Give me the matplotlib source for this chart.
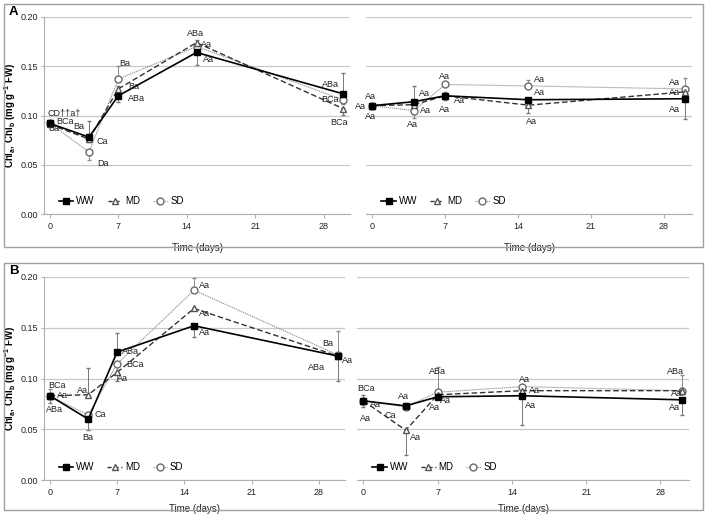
import numpy as np
import matplotlib
matplotlib.use('Agg')
import matplotlib.pyplot as plt
from matplotlib.patches import Rectangle
from matplotlib.lines import Line2D

plt.rcParams['font.family'] = ['Liberation Sans', 'DejaVu Sans']
plt.rcParams['font.size'] = 6.5

days = [0, 4, 7, 15, 30]

# panel A, left
ww_a1 = [0.092, 0.078, 0.120, 0.164, 0.122]
md_a1 = [0.091, 0.076, 0.127, 0.174, 0.107]
sd_a1 = [0.092, 0.063, 0.137, 0.170, 0.116]
ww_a1_err = ([0.002, 0.0, 0.006, 0.013, 0.0], [0.002, 0.016, 0.0, 0.0, 0.021])
md_a1_err = ([0.002, 0.003, 0.003, 0.003, 0.006], [0.0, 0.0, 0.003, 0.003, 0.0])
sd_a1_err = ([0.002, 0.008, 0.0, 0.0, 0.004], [0.002, 0.0, 0.013, 0.003, 0.0])
lab_a1 = [(-0.2, 0.103, 'CD\u2020\u2020a\u2020'), (0.7, 0.094, 'BCa'), (-0.2, 0.087, 'Ba'),
          (2.4, 0.089, 'Ba'), (4.8, 0.074, 'Ca'), (4.8, 0.051, 'Da'),
          (7.1, 0.153, 'Ba'), (8.0, 0.129, 'Ba'), (8.0, 0.117, 'ABa'),
          (14.0, 0.183, 'ABa'), (15.5, 0.172, 'Aa'), (15.7, 0.157, 'Aa'),
          (27.8, 0.131, 'ABa'), (27.8, 0.116, 'BCa'), (28.7, 0.093, 'BCa')]

# panel A, right
ww_a2 = [0.110, 0.114, 0.120, 0.116, 0.117]
md_a2 = [0.110, 0.111, 0.120, 0.1105, 0.124]
sd_a2 = [0.110, 0.105, 0.1315, 0.130, 0.127]
ww_a2_err = ([0.002, 0.0, 0.004, 0.0, 0.021], [0.002, 0.016, 0.004, 0.0, 0.0])
md_a2_err = ([0.0, 0.0, 0.0, 0.008, 0.0], [0.0, 0.0, 0.0, 0.0, 0.0])
sd_a2_err = ([0.0, 0.008, 0.0, 0.0, 0.0], [0.0, 0.0, 0.0, 0.006, 0.011])
lab_a2 = [(-0.7, 0.119, 'Aa'), (-1.7, 0.1095, 'Aa'), (-0.7, 0.099, 'Aa'),
          (4.5, 0.122, 'Aa'), (4.6, 0.105, 'Aa'), (3.3, 0.091, 'Aa'),
          (6.4, 0.140, 'Aa'), (7.8, 0.115, 'Aa'), (6.4, 0.106, 'Aa'),
          (15.5, 0.137, 'Aa'), (15.5, 0.123, 'Aa'), (14.8, 0.094, 'Aa'),
          (28.5, 0.134, 'Aa'), (28.5, 0.123, 'Aa'), (28.5, 0.106, 'Aa')]

# panel B, left
ww_b1 = [0.083, 0.060, 0.126, 0.152, 0.122]
md_b1 = [0.083, 0.084, 0.106, 0.169, 0.122]
sd_b1 = [0.083, 0.064, 0.1145, 0.187, 0.123]
ww_b1_err = ([0.007, 0.011, 0.0, 0.011, 0.024], [0.0, 0.0, 0.019, 0.0, 0.0])
md_b1_err = ([0.0, 0.0, 0.008, 0.0, 0.0], [0.0, 0.026, 0.0, 0.0, 0.0])
sd_b1_err = ([0.0, 0.0, 0.0, 0.0, 0.0], [0.007, 0.0, 0.0, 0.012, 0.024])
lab_b1 = [(-0.2, 0.093, 'BCa'), (0.7, 0.083, 'Aa'), (-0.4, 0.069, 'ABa'),
          (2.8, 0.088, 'Aa'), (4.6, 0.065, 'Ca'), (3.4, 0.042, 'Ba'),
          (7.5, 0.127, 'ABa'), (8.0, 0.114, 'BCa'), (7.0, 0.100, 'Aa'),
          (15.5, 0.192, 'Aa'), (15.5, 0.164, 'Aa'), (15.5, 0.145, 'Aa'),
          (28.3, 0.134, 'Ba'), (26.8, 0.111, 'ABa'), (30.4, 0.118, 'Aa')]

# panel B, right
ww_b2 = [0.078, 0.073, 0.082, 0.083, 0.079]
md_b2 = [0.078, 0.049, 0.084, 0.088, 0.088]
sd_b2 = [0.078, 0.072, 0.0865, 0.092, 0.088]
ww_b2_err = ([0.006, 0.0, 0.0, 0.029, 0.015], [0.006, 0.003, 0.0, 0.0, 0.0])
md_b2_err = ([0.0, 0.024, 0.0, 0.0, 0.0], [0.0, 0.0, 0.0, 0.0, 0.0])
sd_b2_err = ([0.0, 0.0, 0.0, 0.0, 0.0], [0.0, 0.0, 0.025, 0.0, 0.015])
lab_b2 = [(-0.6, 0.0906, 'BCa'), (0.6, 0.074, 'Aa'), (-0.3, 0.061, 'Aa'),
          (3.3, 0.082, 'Aa'), (2.0, 0.064, 'Ca'), (4.4, 0.0414, 'Aa'),
          (6.2, 0.1067, 'ABa'), (7.2, 0.078, 'Aa'), (6.2, 0.071, 'Aa'),
          (14.7, 0.0995, 'Aa'), (15.6, 0.0877, 'Aa'), (15.25, 0.073, 'Aa'),
          (28.6, 0.107, 'ABa'), (29.0, 0.085, 'Aa'), (28.8, 0.071, 'Aa')]

W, H = 708, 517
fig = plt.figure(figsize=(W / 100, H / 100), dpi=100)

def px(x0, y0, x1, y1):
    return [x0 / W, 1 - y1 / H, (x1 - x0) / W, (y1 - y0) / H]

def draw(ax, ww, md, sd, ew, em, es, labels, first, xlab_y, ylab_y):
    ax.errorbar(days, sd, yerr=es, color='#8a8a8a', lw=0.8, ls=(0, (1, 0.8)),
                marker='o', ms=5, mfc='white', mec='#6a6a6a', ecolor='#8a8a8a',
                elinewidth=0.7, capsize=1.5, zorder=3)
    ax.errorbar(days, md, yerr=em, color='#333333', lw=1.0, ls=(0, (4, 2)),
                marker='^', ms=5, mfc='white', mec='#555555', ecolor='#777777',
                elinewidth=0.7, capsize=1.5, zorder=4)
    ax.errorbar(days, ww, yerr=ew, color='black', lw=1.2, ls='-',
                marker='s', ms=4.5, mfc='black', mec='black', ecolor='#777777',
                elinewidth=0.7, capsize=1.5, zorder=5)
    for x, y, t in labels:
        ax.text(x, y, t, fontsize=6.5, color='#222222', va='center', ha='left', zorder=6,
                clip_on=False)
    ax.set_xlim(-0.6, 30.7)
    ax.set_ylim(0, 0.2)
    ax.set_xticks([0, 7, 14, 21, 28])
    ax.set_yticks([0, 0.05, 0.10, 0.15, 0.20])
    ax.yaxis.grid(True, color='#c8c8c8', lw=0.9)
    ax.set_axisbelow(True)
    for s in ['top', 'right']:
        ax.spines[s].set_visible(False)
    ax.spines['bottom'].set_color('#b0b0b0')
    ax.spines['left'].set_color('#b0b0b0')
    ax.tick_params(axis='x', length=3, pad=3, color='#b0b0b0', labelsize=6.5, labelcolor='#222222')
    if first:
        ax.yaxis.set_major_formatter(plt.FuncFormatter(lambda v, p: '%.2f' % v))
        ax.tick_params(axis='y', length=2, pad=2, color='#b0b0b0', labelsize=6.5, labelcolor='#222222')
        ax.set_ylabel('Chl$_\\mathregular{a}$, Chl$_\\mathregular{b}$ (mg g$^\\mathregular{-1}$ FW)',
                      fontsize=7, fontweight='bold')
        ax.yaxis.set_label_coords(18 / W, 1 - ylab_y / H, transform=fig.transFigure)
    else:
        ax.spines['left'].set_visible(False)
        ax.tick_params(axis='y', length=0, labelleft=False)
    ax.set_xlabel('Time (days)', fontsize=7, color='#222222')
    ax.xaxis.set_label_coords(0.5, xlab_y)
    handles = [
        Line2D([], [], color='black', lw=1.2, marker='s', ms=4.5, mfc='black'),
        Line2D([], [], color='#333333', lw=1.0, ls=(0, (3, 2)), marker='^', ms=5, mfc='white', mec='#555555'),
        Line2D([], [], color='#8a8a8a', lw=0.8, ls=(0, (1, 1)), marker='o', ms=5, mfc='white', mec='#6a6a6a'),
    ]
    ax.legend(handles, ['WW', 'MD', 'SD'], loc='lower left', bbox_to_anchor=(0.02, -0.005),
              ncol=3, frameon=False, fontsize=7, handlelength=1.5, handletextpad=0.3,
              columnspacing=1.3)

# frames
fig.patches.append(Rectangle((4 / W, 1 - 247 / H), 699 / W, 243 / H, transform=fig.transFigure,
                             fill=False, ec='#a0a0a0', lw=1))
fig.patches.append(Rectangle((4 / W, 1 - 510 / H), 699 / W, 247 / H, transform=fig.transFigure,
                             fill=False, ec='#a0a0a0', lw=1))

ax1 = fig.add_axes(px(44, 17, 350, 214))
ax2 = fig.add_axes(px(366, 17, 692, 214))
ax3 = fig.add_axes(px(44, 277, 345, 480))
ax4 = fig.add_axes(px(357, 277, 689, 480))
ax2.set_zorder(-1)
ax4.set_zorder(-1)

draw(ax1, ww_a1, md_a1, sd_a1, ww_a1_err, md_a1_err, sd_a1_err, lab_a1, True, -0.147, 115)
draw(ax2, ww_a2, md_a2, sd_a2, ww_a2_err, md_a2_err, sd_a2_err, lab_a2, False, -0.147, 115)
draw(ax3, ww_b1, md_b1, sd_b1, ww_b1_err, md_b1_err, sd_b1_err, lab_b1, True, -0.118, 378)
draw(ax4, ww_b2, md_b2, sd_b2, ww_b2_err, md_b2_err, sd_b2_err, lab_b2, False, -0.118, 378)

fig.text(9 / W, 1 - 12 / H, 'A', fontsize=9.5, fontweight='bold', va='center')
fig.text(9 / W, 1 - 271 / H, 'B', fontsize=9.5, fontweight='bold', va='center')

fig.savefig('out.png', dpi=100)
